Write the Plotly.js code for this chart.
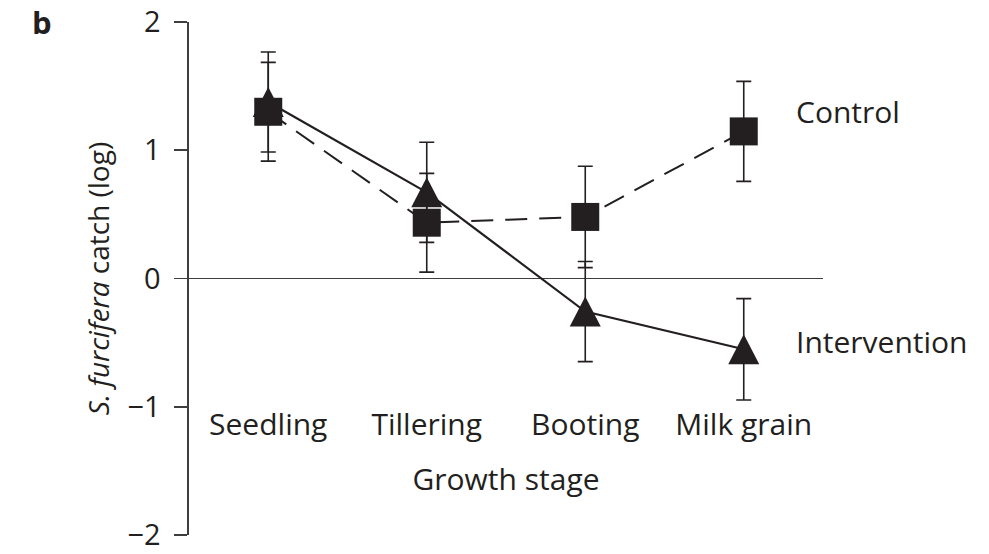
<!DOCTYPE html>
<html>
<head>
<meta charset="utf-8">
<script src="https://cdn.plot.ly/plotly-3.0.1.min.js"></script>
<style>html,body{margin:0;padding:0;background:#fff;}#chart{width:989px;height:554px;}</style>
</head>
<body>
<div id="chart"></div>
<script>
// ---- data ----
const stages = ['Seedling', 'Tillering', 'Booting', 'Milk grain'];
const stageIndex = [0, 1, 2, 3];
const controlMean = [1.30, 0.435, 0.48, 1.147];
const controlErr = [0.385, 0.385, 0.395, 0.39];
const interventionMean = [1.376, 0.672, -0.258, -0.552];
const interventionErr = [0.39, 0.39, 0.39, 0.395];
const yTicks = [-2, -1, 0, 1, 2];

const ink = '#231f20';
const axisCol = '#3e3e3e';
const fontFam = '"Open Sans", "Noto Sans", sans-serif';

const intervention = {
  x: stageIndex, y: interventionMean, type: 'scatter', mode: 'lines',
  name: 'Intervention',
  line: {color: ink, width: 2.2},
  error_y: {type: 'data', array: interventionErr, visible: true, color: ink, thickness: 1.6, width: 7.5},
  hoverinfo: 'skip'
};
const control = {
  x: stageIndex, y: controlMean, type: 'scatter', mode: 'lines+markers',
  name: 'Control',
  line: {color: ink, width: 2, dash: '22px,12px'},
  marker: {symbol: 'square', size: 28, color: ink, line: {width: 0}},
  error_y: {type: 'data', array: controlErr, visible: true, color: ink, thickness: 1.6, width: 7.5},
  hoverinfo: 'skip'
};

// triangle markers: pixel-sized paths anchored at the data values
const triShapes = stageIndex.map((xi, i) => ({
  type: 'path', xref: 'x', yref: 'y',
  xsizemode: 'pixel', ysizemode: 'pixel',
  xanchor: xi, yanchor: interventionMean[i],
  path: 'M-15.5,-15 L15.5,-15 L0,15 Z',
  fillcolor: ink, line: {width: 0}, layer: 'above'
}));

const layout = {
  width: 989, height: 554,
  margin: {l: 189, r: 166, t: 22, b: 19},
  paper_bgcolor: '#fff', plot_bgcolor: '#fff',
  showlegend: false,
  font: {family: fontFam, size: 30, color: ink},
  xaxis: {
    type: 'linear', range: [-0.5, 3.5],
    tickmode: 'array', tickvals: stageIndex, ticktext: stages,
    showline: false, showgrid: false, zeroline: false, ticks: '',
    anchor: 'free', position: 0.2554,
    tickfont: {family: fontFam, size: 30, color: ink},
    title: {text: 'Growth stage', standoff: 26, font: {family: fontFam, size: 30, color: ink}}
  },
  yaxis: {
    range: [-2, 2], tickmode: 'array', tickvals: yTicks,
    showline: true, linecolor: axisCol, linewidth: 1.6,
    ticks: 'outside', ticklen: 13, tickwidth: 1.6, tickcolor: axisCol,
    ticklabelstandoff: 8, ticklabeloverflow: 'allow',
    showgrid: false, zeroline: true, zerolinecolor: axisCol, zerolinewidth: 1.6,
    tickfont: {family: fontFam, size: 29, color: ink},
    title: {text: '<i>S. furcifera</i> catch (log)', standoff: 9, font: {family: fontFam, size: 28, color: ink}}
  },
  shapes: triShapes,
  annotations: [
    {text: 'Control', xref: 'paper', yref: 'paper', x: 0.955, y: 0.8265, xanchor: 'left', yanchor: 'middle', showarrow: false, font: {family: fontFam, size: 30, color: ink}},
    {text: 'Intervention', xref: 'paper', yref: 'paper', x: 0.955, y: 0.378, xanchor: 'left', yanchor: 'middle', showarrow: false, font: {family: fontFam, size: 30, color: ink}},
    {text: '<b>b</b>', xref: 'paper', yref: 'paper', x: -0.2508, y: 1.0, xanchor: 'left', yanchor: 'middle', showarrow: false, font: {family: fontFam, size: 31, color: ink}}
  ]
};

Plotly.newPlot('chart', [intervention, control], layout, {staticPlot: true, displayModeBar: false});
</script>
</body>
</html>
